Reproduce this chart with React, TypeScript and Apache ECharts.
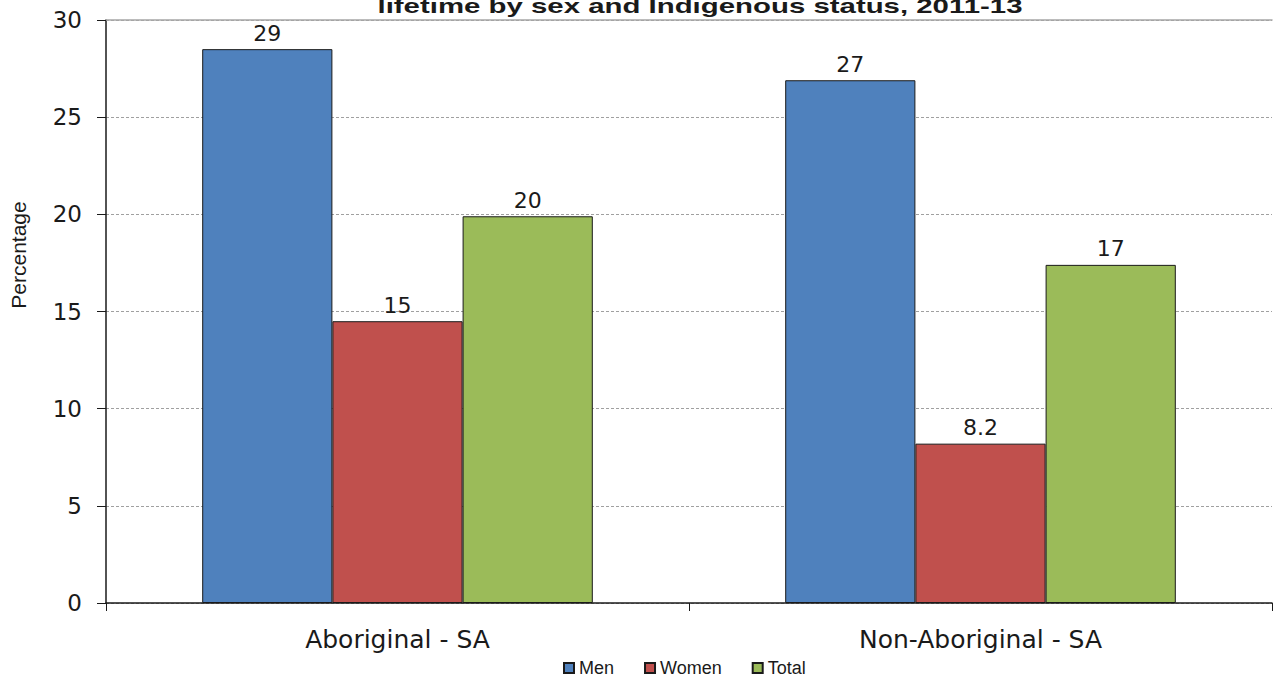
import React, { useEffect, useRef } from "react";
import * as echarts from "echarts";

// Population groups on the category axis
const categories = ["Aboriginal - SA", "Non-Aboriginal - SA"];

// Percentage values per sex group
const menValues = [28.5, 26.9];
const womenValues = [14.5, 8.2];
const totalValues = [19.9, 17.4];

const seriesNames = ["Men", "Women", "Total"];
const seriesColors = ["#4f81bd", "#c0504d", "#9bbb59"];

const yTicks = { min: 0, max: 30, interval: 5 };

const titleLine = "lifetime by sex and Indigenous status, 2011-13";
const yAxisTitle = "Percentage";

const FONT = "'Liberation Sans', Arial, sans-serif";
const WIDE = "'DejaVu Sans', 'Liberation Sans', sans-serif";
const INK = "#1a1a1a";

// Labels show two significant figures of the plotted value
const sig2 = (v: number) => String(Number(v.toPrecision(2)));

export default function App() {
  const ref = useRef<HTMLDivElement>(null);

  useEffect(() => {
    if (!ref.current) return;
    const chart = echarts.init(ref.current, null, { renderer: "svg" });

    const makeSeries = (name: string, data: number[], color: string) => ({
      name,
      type: "bar",
      data,
      barGap: "0%",
      barCategoryGap: "33%",
      itemStyle: { color, borderColor: INK, borderWidth: 1 },
      label: {
        show: true,
        position: "top",
        distance: 5,
        formatter: (p: any) => sig2(p.value),
        fontFamily: WIDE,
        fontSize: 22,
        color: INK,
      },
    });

    chart.setOption({
      animation: false,
      backgroundColor: "#ffffff",
      textStyle: { fontFamily: FONT },
      grid: { left: 106, right: 7, top: 20, bottom: 77, containLabel: false },
      legend: {
        data: seriesNames,
        left: 563,
        top: 659,
        padding: 0,
        itemWidth: 10,
        itemHeight: 10,
        itemGap: 30,
        icon: "rect",
        textStyle: { fontFamily: FONT, fontSize: 18, color: INK },
      },
      xAxis: [
        {
          type: "category",
          data: categories,
          axisLine: { lineStyle: { color: INK, width: 1.5 } },
          axisTick: { show: true, length: 8, lineStyle: { color: INK } },
          axisLabel: { fontFamily: WIDE, fontSize: 25, color: INK, margin: 24 },
        },
        {
          type: "category",
          data: categories,
          position: "top",
          axisLine: { show: true, lineStyle: { color: "#a6a6a6", width: 1.5 } },
          axisTick: { show: false },
          axisLabel: { show: false },
        },
      ],
      yAxis: {
        type: "value",
        min: yTicks.min,
        max: yTicks.max,
        interval: yTicks.interval,
        axisLine: { show: true, lineStyle: { color: INK, width: 1.5 } },
        axisTick: { show: true, length: 9, lineStyle: { color: INK } },
        axisLabel: { fontFamily: WIDE, fontSize: 23, color: INK, margin: 24 },
        splitLine: { show: true, lineStyle: { color: "#a0a0a0", type: [3, 2], width: 1 } },
      },
      graphic: [
        {
          type: "text",
          x: 700,
          y: 16,
          scaleX: 1.4,
          style: {
            text: titleLine,
            font: `bold 21px ${FONT}`,
            fill: INK,
            textAlign: "center",
            textVerticalAlign: "bottom",
          },
        },
        {
          type: "text",
          x: 18,
          y: 255,
          rotation: Math.PI / 2,
          style: {
            text: yAxisTitle,
            font: `21px ${FONT}`,
            fill: INK,
            textAlign: "center",
            textVerticalAlign: "middle",
          },
        },
      ],
      series: [
        makeSeries(seriesNames[0], menValues, seriesColors[0]),
        makeSeries(seriesNames[1], womenValues, seriesColors[1]),
        makeSeries(seriesNames[2], totalValues, seriesColors[2]),
      ],
    });

    return () => chart.dispose();
  }, []);

  return (
    <div
      ref={ref}
      style={{ position: "absolute", left: 0, top: 0, width: 1279, height: 680 }}
    />
  );
}
